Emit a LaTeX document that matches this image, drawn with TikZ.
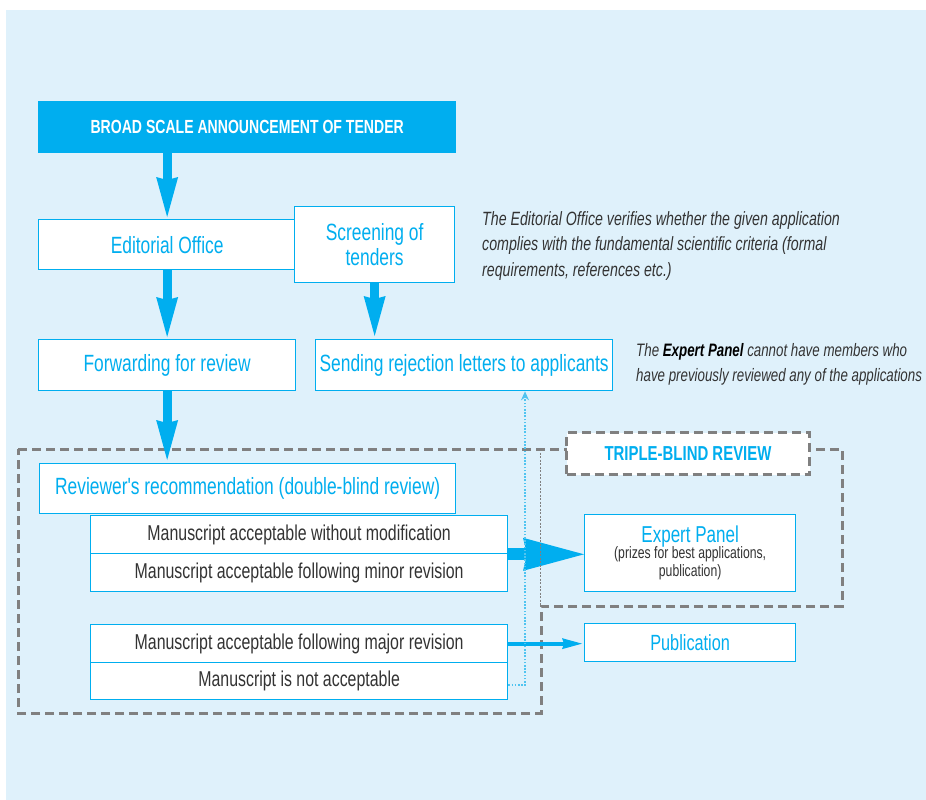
\documentclass[tikz,border=0pt]{standalone}
\usepackage{fontspec}
\setmainfont{Liberation Sans}[FakeStretch=0.74]
\newfontfamily\rawfont{Liberation Sans}[FakeStretch=0.74]
\usetikzlibrary{arrows.meta}
\definecolor{cy}{RGB}{0,174,239}
\definecolor{bgc}{RGB}{223,241,251}
\definecolor{dgray}{RGB}{128,128,128}
\definecolor{txt}{RGB}{51,51,51}
\definecolor{lcy}{RGB}{80,196,240}
\begin{document}
\begin{tikzpicture}[x=1pt,y=-1pt,
  box/.style={draw=cy, line width=1.3pt, fill=white, inner sep=0pt, anchor=north west, align=center},
  bluetxt/.style={text=cy, font=\fontsize{23.5}{24.5}\selectfont},
  mtxt/.style={text=txt, font=\fontsize{21.5}{22}\selectfont},
  topbar/.style={fill=cy, inner sep=0pt, anchor=north west, text=white, font=\fontsize{19}{20}\selectfont\bfseries},
  grayline/.style={draw=dgray, line width=3pt, dash pattern=on 9pt off 5pt},
  note/.style={anchor=north west, inner sep=0pt, align=left, text=txt},
  bigv/.style={cy, line width=9pt, -{Stealth[length=40pt,width=22pt,inset=3pt,line width=0pt]}},
  bigh/.style={cy, line width=12pt, -{Stealth[length=61pt,width=33pt,inset=4pt,line width=0pt]}},
  smallh/.style={cy, line width=4pt, -{Stealth[length=20pt,width=11pt,inset=2pt,line width=0pt]}},
  dotarrow/.style={lcy, line width=1.6pt, dash pattern=on 1.6pt off 1.6pt, -{Stealth[length=9pt,width=8pt]}}
]
\useasboundingbox (0,0) rectangle (926,800);
\fill[bgc] (6,10) rectangle (926,800);

% top bar
\node[topbar, minimum width=418, minimum height=52] (top) at (38,101) {BROAD SCALE ANNOUNCEMENT OF TENDER};

% second row
\node[box,bluetxt, minimum width=257, minimum height=50] (ed) at (38,219) {Editorial Office};
\node[box,bluetxt, minimum width=160, minimum height=76] (scr) at (294,206) {Screening of\\tenders};

% third row
\node[box,bluetxt, minimum width=257, minimum height=51] (fwd) at (38,339) {Forwarding for review};
\node[box,bluetxt, minimum width=297, minimum height=51] (rej) at (315,339) {Sending rejection letters to applicants};

% dashed regions
\draw[grayline] (18,449) -- (842,449) -- (842,606) -- (541,606) -- (541,713) -- (18,713) -- cycle;
\node[box, draw=dgray, line width=3pt, dash pattern=on 9pt off 5pt, minimum width=243, minimum height=42,
      text=cy, font=\fontsize{20.2}{21}\selectfont\bfseries] (tbr) at (565,431) {TRIPLE-BLIND REVIEW};

% review boxes
\node[box,bluetxt, minimum width=416, minimum height=50] (rev) at (39,463) {Reviewer{\rawfont'}s recommendation (double-blind review)};
\node[box,mtxt, minimum width=417, minimum height=38] (m1) at (90,515) {Manuscript acceptable without modification};
\node[box,mtxt, minimum width=417, minimum height=38] (m2) at (90,553) {Manuscript acceptable following minor revision};
\node[box,mtxt, minimum width=417, minimum height=38] (m3) at (90,624) {Manuscript acceptable following major revision};
\node[box,mtxt, minimum width=417, minimum height=37] (m4) at (90,662) {Manuscript is not acceptable};

% right boxes
\node[box, minimum width=211, minimum height=77, font=\fontsize{16.5}{18}\selectfont, text=txt] (exp) at (584,514)
  {\textcolor{cy}{\fontsize{23}{24}\selectfont Expert Panel}\\[-2pt]
   (prizes for best applications,\\publication)};
\node[box, minimum width=211, minimum height=38, text=cy, font=\fontsize{22}{23}\selectfont] (pub) at (584,623) {Publication};

% notes
\node[note, font=\fontsize{19.2}{25.5}\selectfont\itshape] (n1) at (482,211)
  {The Editorial Office verifies whether the given application\\complies with the fundamental scientific criteria (formal\\requirements, references etc.)};
\node[note, font=\fontsize{18}{25}\selectfont\itshape] (n2) at (636,343.5)
  {The \textcolor{black}{\textbf{Expert Panel}} cannot have members who\\have previously reviewed any of the applications};

% arrows
\draw[bigv, shorten >=2pt] (ed.north |- top.south) -- (ed.north);
\draw[bigv, shorten >=2pt] (ed.south) -- (fwd.north);
\draw[bigv, shorten >=3pt] (scr.south) -- (scr.south |- rej.north);
\draw[bigv, shorten >=3pt] (fwd.south) -- (fwd.south |- rev.north);
\draw[bigh] (m1.south east) -- (m1.south east -| exp.west);
\draw[smallh, shorten >=2pt] (m3.east) -- (m3.east -| pub.west);
\coordinate (dx) at (525,0);
\draw[dotarrow] ([yshift=-4pt]m4.east) -| (dx |- rej.south);
\draw[dgray, line width=0.9pt, dash pattern=on 2pt off 1.5pt] (540,449) -- (540,606);
\end{tikzpicture}
\end{document}
